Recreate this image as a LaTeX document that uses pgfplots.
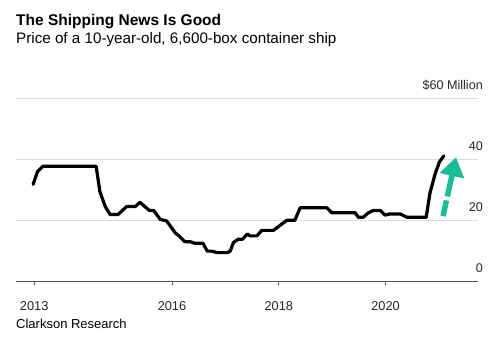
\documentclass[border=0pt]{standalone}
\usepackage{fontspec}
\setmainfont{Liberation Sans}
\usepackage{pgfplots}
\pgfplotsset{compat=1.18}
\usetikzlibrary{arrows.meta}
\definecolor{gridgray}{HTML}{DCDCDC}
\definecolor{axisgray}{HTML}{555555}
\definecolor{arrowteal}{HTML}{1DBC98}
\pgfplotstableread{
x y
2013.40 31.7
2013.48 35.8
2013.58 37.6
2014.58 37.6
2014.65 29.3
2014.75 24.4
2014.84 21.8
2014.99 21.8
2015.15 24.4
2015.31 24.4
2015.40 25.8
2015.49 24.4
2015.58 23.1
2015.66 23.1
2015.78 20.2
2015.90 19.7
2016.06 15.8
2016.15 14.5
2016.24 12.9
2016.34 12.9
2016.42 12.4
2016.58 12.4
2016.66 9.8
2016.74 9.8
2016.85 9.3
2017.04 9.3
2017.09 9.8
2017.15 12.6
2017.24 13.7
2017.32 13.7
2017.41 15.4
2017.46 14.8
2017.59 14.8
2017.68 16.6
2017.90 16.6
2017.99 17.8
2018.15 19.9
2018.30 19.9
2018.40 24.0
2018.90 24.0
2018.99 22.4
2019.43 22.4
2019.49 20.9
2019.58 20.9
2019.68 22.4
2019.77 23.1
2019.90 23.1
2019.99 21.6
2020.08 22.0
2020.27 22.0
2020.40 20.9
2020.76 20.9
2020.83 28.8
2020.93 35.3
2021.01 39.1
2021.09 41.0
}\shipdata
\begin{document}
\begin{tikzpicture}
\path[use as bounding box, fill=white] (0,0) rectangle (500pt,359pt);
\begin{axis}[
  at={(16pt,78pt)}, anchor=south west,
  scale only axis, width=462pt, height=183pt,
  xmin=2013.079, xmax=2021.730, ymin=0, ymax=60,
  clip=false,
  axis x line*=bottom, axis y line*=right,
  y axis line style={draw=none},
  x axis line style={axisgray, line width=1pt},
  xtick={2013.42,2016,2018,2020},
  xticklabels={2013,2016,2018,2020},
  tick align=outside, major tick length=4pt,
  xtick style={axisgray, line width=0.8pt},
  xticklabel style={anchor=base, yshift=-25pt, font=\fontsize{12.8}{14}\selectfont, text=black!85},
  ytick={0,20,40,60},
  yticklabels={0,20,40,{\$60 Million}},
  ytick style={draw=none},
  yticklabel pos=right,
  yticklabel style={anchor=base east, inner xsep=0pt, xshift=1pt, yshift=9pt, font=\fontsize{12.6}{14}\selectfont, text=black!85},
  ymajorgrids, grid style={gridgray, line width=1pt},
]
\addplot[black, line width=3.2pt, line join=round, line cap=round] table[x=x,y=y] {\shipdata};
\draw[arrowteal, line width=5.5pt, dash pattern=on 16pt off 4pt on 200pt,
  -{Triangle[width=24pt,length=19pt]}] (axis cs:2021.075,21.3) -- (axis cs:2021.318,40.6);
\end{axis}
\node[anchor=base west, inner sep=0pt] at (16pt,333pt) {\fontsize{15.5}{18}\selectfont\bfseries The Shipping News Is Good};
\node[anchor=base west, inner sep=0pt] at (16pt,315.5pt) {\fontsize{15.2}{18}\selectfont Price of a 10-year-old, 6,600-box container ship};
\node[anchor=base west, inner sep=0pt] at (16pt,31pt) {\fontsize{13}{15}\selectfont Clarkson Research};
\end{tikzpicture}
\end{document}
